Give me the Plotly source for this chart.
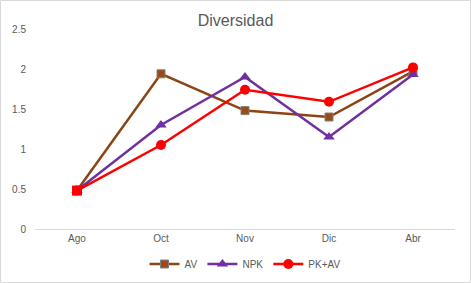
import plotly.graph_objects as go

categories = ["Ago", "Oct", "Nov", "Dic", "Abr"]
av = [0.48, 1.94, 1.48, 1.40, 1.97]
npk = [0.48, 1.30, 1.90, 1.15, 1.93]
pkav = [0.48, 1.05, 1.74, 1.59, 2.02]

W, H = 471, 283
L, R, T, B = 35, 16, 29, 54
pw, ph = W - L - R, H - T - B

fig = go.Figure()
fig.add_trace(go.Scatter(x=categories, y=av, name="AV", mode="lines+markers",
                         line=dict(color="#8B4513", width=2.5),
                         marker=dict(symbol="square", size=8, color="#9E4A14",
                                     line=dict(color="#808080", width=1))))
fig.add_trace(go.Scatter(x=categories, y=npk, name="NPK", mode="lines+markers",
                         line=dict(color="#7030A0", width=2.5),
                         marker=dict(symbol="triangle-up", size=10, color="#7030A0")))
fig.add_trace(go.Scatter(x=categories, y=pkav, name="PK+AV", mode="lines+markers",
                         line=dict(color="#FF0000", width=2.5),
                         marker=dict(symbol="circle", size=10, color="#FF0000")))
# first point of PK+AV is drawn as a square in the reference
fig.add_trace(go.Scatter(x=categories[:1], y=pkav[:1], mode="markers", showlegend=False,
                         marker=dict(symbol="square", size=10, color="#FF0000")))

fig.update_layout(
    width=W, height=H,
    margin=dict(l=L, r=R, t=T, b=B, autoexpand=False),
    paper_bgcolor="white", plot_bgcolor="white",
    font=dict(family="Liberation Sans, Arial", color="#595959", size=10),
    title=dict(text="Diversidad", x=0.5, xanchor="center", y=1 - 20 / H, yanchor="middle",
               font=dict(size=16, color="#595959")),
    showlegend=True,
    legend=dict(orientation="h", x=0.5, xanchor="center", y=-(264 - T - ph) / ph,
                yanchor="middle", font=dict(size=10, color="#595959"),
                itemwidth=30, tracegroupgap=0),
    xaxis=dict(range=[-0.5, 4.5], showgrid=False, showline=True, linecolor="#D9D9D9", linewidth=1,
               ticks="", tickfont=dict(size=10, color="#595959"), fixedrange=True,
               automargin=False),
    yaxis=dict(range=[0, 2.5], dtick=0.5, showgrid=False, zeroline=False, showline=False,
               ticks="", tickfont=dict(size=10, color="#595959"), ticklabelstandoff=8,
               automargin=False, fixedrange=True),
    shapes=[dict(type="rect", xref="paper", yref="paper",
                 x0=(0.5 - L) / pw, x1=(W - 0.5 - L) / pw,
                 y0=-(B - 0.5) / ph, y1=1 + (T - 0.5) / ph,
                 line=dict(color="#D9D9D9", width=1), fillcolor="rgba(0,0,0,0)")],
)

fig.write_html("out.html", config={"displayModeBar": False},
               post_script="document.body.style.margin='0';document.body.style.overflow='hidden';")
